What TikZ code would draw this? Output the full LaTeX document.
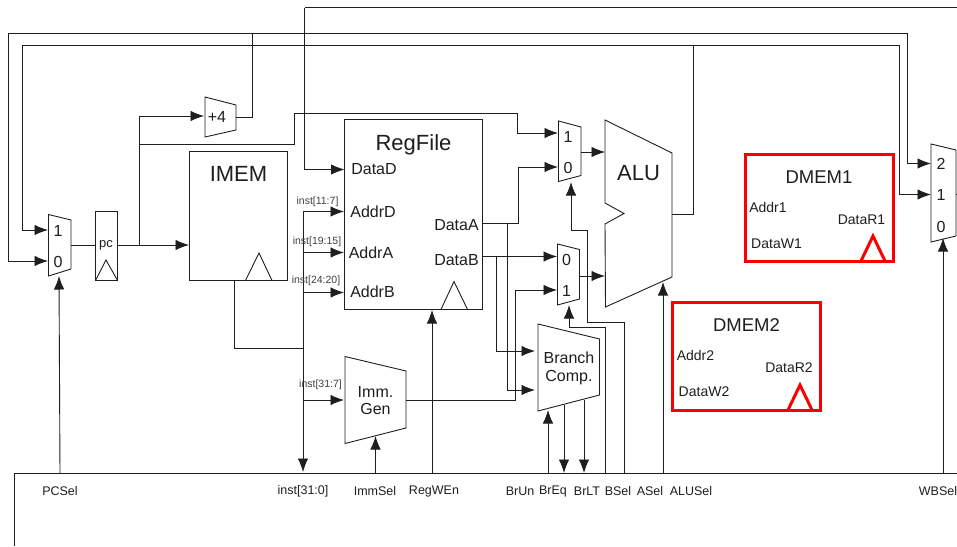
\documentclass[tikz,border=0pt]{standalone}
\usepackage{fontspec}
\setmainfont{Liberation Sans}
\usetikzlibrary{arrows.meta}
\definecolor{ink}{HTML}{1E1E1E}
\definecolor{dmemred}{HTML}{FA0000}
\tikzset{
  wire/.style={draw=ink,line width=0.9pt,line join=miter},
  conn/.style={wire,-{Latex[length=13.5pt,width=10.5pt]}},
  part/.style={draw=ink,line width=0.9pt,fill=white,line join=miter},
  blockbox/.style={part,rectangle,inner sep=0pt,outer sep=0pt,anchor=north west},
  redbox/.style={rectangle,draw=dmemred,line width=3pt,fill=white,inner sep=0pt,outer sep=0pt,anchor=north west,minimum width=148pt,minimum height=107.5pt},
  redtri/.style={draw=dmemred,line width=3pt,line join=miter},
  txt/.style={inner sep=0pt,outer sep=0pt,text=ink,align=center},
  big/.style={txt,font=\fontsize{22}{24}\selectfont},
  mid/.style={txt,font=\fontsize{16}{18}\selectfont},
  dm/.style={txt,font=\fontsize{18.5}{20}\selectfont},
  port/.style={txt,font=\fontsize{14}{16}\selectfont},
  sel/.style={txt,font=\fontsize{12.5}{14}\selectfont},
  bit/.style={txt,font=\fontsize{10.5}{12}\selectfont,text=ink!85},
}
\begin{document}
\begin{tikzpicture}[x=1pt,y=-1pt]
\useasboundingbox (0,0) rectangle (957,546);
% blocks
\node[blockbox,minimum width=22pt,minimum height=69pt] (pc) at (95,211) {};
\node[blockbox,minimum width=98.5pt,minimum height=129pt] (imem) at (189,151.5) {};
\node[blockbox,minimum width=137.5pt,minimum height=190pt] (reg) at (344.5,119.5) {};
\node[redbox] (dmemA) at (745,154) {};
\node[redbox] (dmemB) at (672.5,302.5) {};
% trapezoids
\draw[part] (48.5,214.5) -- (71,220) -- (71,269) -- (48.5,276) -- cycle;
\draw[part] (205,97) -- (236,105) -- (236,130) -- (205,137) -- cycle;
\draw[part] (345,356.5) -- (406,371) -- (406,428) -- (345,443.5) -- cycle;
\draw[part] (558.5,121) -- (581,127) -- (581,175.5) -- (558.5,181.5) -- cycle;
\draw[part] (557.5,244) -- (579.5,249.5) -- (579.5,299) -- (557.5,305) -- cycle;
\draw[part] (538,324) -- (599.5,339) -- (599.5,395) -- (538,411) -- cycle;
\draw[part] (931,144) -- (956,150) -- (956,236) -- (931,242) -- cycle;
\draw[part] (605,120) -- (672,153) -- (672,277) -- (605.5,307) -- (605,224) -- (624,213.5) -- (605,203) -- cycle;
% clock triangles
\draw[part,fill=none] (96,279.5) -- (106,260) -- (117,279.5);
\draw[part,fill=none] (245.5,280.5) -- (259,253) -- (272,280.5);
\draw[part,fill=none] (441,309.5) -- (454,281.5) -- (467.5,309.5);
\draw[redtri] (861,261) -- (873,236) -- (885,261);
\draw[redtri] (788,410) -- (800,385) -- (812,410);
% ports
\coordinate (muxpcA) at (48,230);
\coordinate (muxpcB) at (48,261);
\coordinate (muxpcOut) at (71,245);
\coordinate (muxpcSel) at (59,276);
\coordinate (pcIn) at (95,245);
\coordinate (pcOut) at (117,245);
\coordinate (imemIn) at (189,245);
\coordinate (pcTap) at (139,245);
\coordinate (addIn) at (204,116);
\coordinate (addOut) at (236,117);
\coordinate (pcBranch) at (139,144);
\coordinate (muxaA) at (558,133);
\coordinate (muxaB) at (558,167);
\coordinate (muxaOut) at (581,152);
\coordinate (muxaSel) at (571,182);
\coordinate (muxbA) at (557,256.5);
\coordinate (muxbB) at (557,290);
\coordinate (muxbOut) at (579.5,276);
\coordinate (muxbSel) at (569,305);
\coordinate (aluA) at (605,152);
\coordinate (aluB) at (605,276);
\coordinate (aluOut) at (672,214.5);
\coordinate (aluSel) at (663,282);
\coordinate (wbA) at (931,163.5);
\coordinate (wbB) at (931,194.5);
\coordinate (wbSel) at (943,238);
\coordinate (wbOut) at (956,194.5);
\coordinate (edgeOut) at (957,194.5);
\coordinate (regD) at (344.5,169.5);
\coordinate (regAddrD) at (344,211.5);
\coordinate (regAddrA) at (344,252.5);
\coordinate (regAddrB) at (344,292.5);
\coordinate (regAOut) at (482,223);
\coordinate (regBOut) at (482,256.5);
\coordinate (regEn) at (432,310);
\coordinate (immIn) at (344,400);
\coordinate (immOut) at (406,400);
\coordinate (immSel) at (375.5,436);
\coordinate (cmpA) at (535,351);
\coordinate (cmpB) at (535,390);
\coordinate (cmpUn) at (548,410);
\coordinate (cmpEq) at (564,405);
\coordinate (cmpLt) at (584,400);
\coordinate (imemOut) at (234,280.5);
\coordinate (busTop) at (303,211.5);
\coordinate (busMid) at (303,348.5);
\coordinate (busEnd) at (303,472);
\coordinate (aTap) at (507,223);
\coordinate (bTap) at (496,256.5);
\coordinate (topA) at (8,33);
\coordinate (topAEnd) at (907,33);
\coordinate (topB) at (22,45);
\coordinate (topBEnd) at (899.5,45);
\coordinate (topC) at (304.6,7.8);
\coordinate (topCEnd) at (957,7.8);
\coordinate (ctlCorner) at (14.6,473.5);
\coordinate (ctlEnd) at (957,473.5);
\coordinate (ctlBottom) at (14.6,546);
\coordinate (ctlPC) at (60,473.5);
\coordinate (ctlImm) at (375.5,473.5);
\coordinate (ctlEn) at (432,473.5);
\coordinate (ctlUn) at (548,473.5);
\coordinate (ctlEq) at (564,473);
\coordinate (ctlLt) at (584,473);
\coordinate (ctlB) at (605.5,473.5);
\coordinate (ctlA) at (624.5,473.5);
\coordinate (ctlAlu) at (663,473.5);
\coordinate (ctlWb) at (943,473.5);
% control bar
\draw[wire] (ctlBottom) -- (ctlCorner) -- (ctlEnd);
% datapath
\draw[wire] (muxpcOut) -- (pcIn);
\draw[conn] (pcOut) -- (imemIn);
\draw[conn] (pcTap) -- (139,116) -- (addIn);
\draw[wire] (pcBranch) -- (294,144) -- (294,113) -- (517,113) -- (517,133);
\draw[conn] (517,133) -- (muxaA);
\draw[wire] (addOut) -- (252,117) -- (252,33);
\draw[conn] (topAEnd) -- (907,163.5) -- (wbA);
\draw[wire] (topA) -- (topAEnd);
\draw[conn] (topA) -- (8,261) -- (muxpcB);
\draw[wire] (topB) -- (topBEnd);
\draw[conn] (topB) -- (22,230) -- (muxpcA);
\draw[conn] (topBEnd) -- (899.5,194.5) -- (wbB);
\draw[wire] (topCEnd) -- (topC);
\draw[conn] (topC) -- (304.6,169.5) -- (regD);
\draw[wire] (aluOut) -- (693,214.5) -- (693,45);
\draw[wire] (imemOut) -- (234,348.5) -- (busMid);
\draw[conn] (busTop) -- (busEnd);
\draw[conn] (busTop) -- (regAddrD);
\draw[conn] (303,252.5) -- (regAddrA);
\draw[conn] (303,292.5) -- (regAddrB);
\draw[conn] (303,400) -- (immIn);
\draw[conn] (regAOut) -- (518,223) -- (518,167) -- (muxaB);
\draw[conn] (aTap) -- (507,390) -- (cmpB);
\draw[conn] (regBOut) -- (muxbA);
\draw[conn] (bTap) -- (496,351) -- (cmpA);
\draw[conn] (immOut) -- (515,400) -- (515,290) -- (muxbB);
\draw[conn] (muxaOut) -- (aluA);
\draw[conn] (muxbOut) -- (aluB);
\draw[wire] (wbOut) -- (edgeOut);
% control lines
\draw[conn] (ctlPC) -- (muxpcSel);
\draw[conn] (ctlImm) -- (immSel);
\draw[conn] (ctlEn) -- (regEn);
\draw[conn] (ctlUn) -- (cmpUn);
\draw[conn] (cmpEq) -- (ctlEq);
\draw[conn] (cmpLt) -- (ctlLt);
\draw[conn] (ctlB) -- (605.5,327.5) -- (569,327.5) -- (muxbSel);
\draw[conn] (ctlA) -- (624.5,322.7) -- (587,322.7) -- (587,230.7) -- (571,230.7) -- (muxaSel);
\draw[conn] (ctlAlu) -- (aluSel);
\draw[conn] (ctlWb) -- (wbSel);
% texts
\node[mid] (t1) at (58,230.5) {1};
\node[mid] (t0) at (58,261.5) {0};
\node[txt,font=\fontsize{13}{14}\selectfont] (tpc) at (106,245) {pc};
\node[mid] (tadd) at (217,117) {+4};
\node[big] (timem) at (238.5,173.5) {IMEM};
\node[big] (treg) at (413.5,144.5) {RegFile};
\node[mid] (tdd) at (374,169.5) {DataD};
\node[mid] (tad) at (373,212) {AddrD};
\node[mid] (taa) at (371,252.5) {AddrA};
\node[mid] (tab) at (372.5,291.5) {AddrB};
\node[mid] (tda) at (456.5,225.5) {DataA};
\node[mid] (tdb) at (456.5,260) {DataB};
\node[bit] (b1) at (317.5,201.5) {inst[11:7]};
\node[bit] (b2) at (317,241.5) {inst[19:15]};
\node[bit] (b3) at (316,281) {inst[24:20]};
\node[bit] (b4) at (320.5,385) {inst[31:7]};
\node[mid] (timm) at (375.5,400.5) {Imm.\\[-0.5pt]Gen};
\node[mid] (ta1) at (568,136.5) {1};
\node[mid] (ta0) at (568,167.5) {0};
\node[mid] (tb0) at (566.5,259.5) {0};
\node[mid] (tb1) at (566.5,290.5) {1};
\node[big] (talu) at (638.5,173.5) {ALU};
\node[mid] (tcmp) at (569,368.5) {Branch\\[-0.5pt]Comp.};
\node[mid] (tw2) at (941,164) {2};
\node[mid] (tw1) at (941,194.5) {1};
\node[mid] (tw0) at (941,226.5) {0};
\node[dm] (tm1) at (819,177.5) {DMEM1};
\node[port] (m1a) at (768,207.5) {Addr1};
\node[port] (m1r) at (861.5,219.5) {DataR1};
\node[port] (m1w) at (776.5,243.5) {DataW1};
\node[dm] (tm2) at (746.5,325.5) {DMEM2};
\node[port] (m2a) at (695.5,355.5) {Addr2};
\node[port] (m2r) at (789,367.5) {DataR2};
\node[port] (m2w) at (704,391.5) {DataW2};
\node[sel] (s1) at (60,491) {PCSel};
\node[sel] (s2) at (303,491) {inst[31:0]};
\node[sel] (s3) at (375,491) {ImmSel};
\node[sel] (s4) at (434,491) {RegWEn};
\node[sel] (s5) at (520,491) {BrUn};
\node[sel] (s6) at (553,491) {BrEq};
\node[sel] (s7) at (587,491) {BrLT};
\node[sel] (s8) at (618,491) {BSel};
\node[sel] (s9) at (650,491) {ASel};
\node[sel] (s10) at (691,491) {ALUSel};
\node[sel] (s11) at (938,491) {WBSel};
\end{tikzpicture}
\end{document}
